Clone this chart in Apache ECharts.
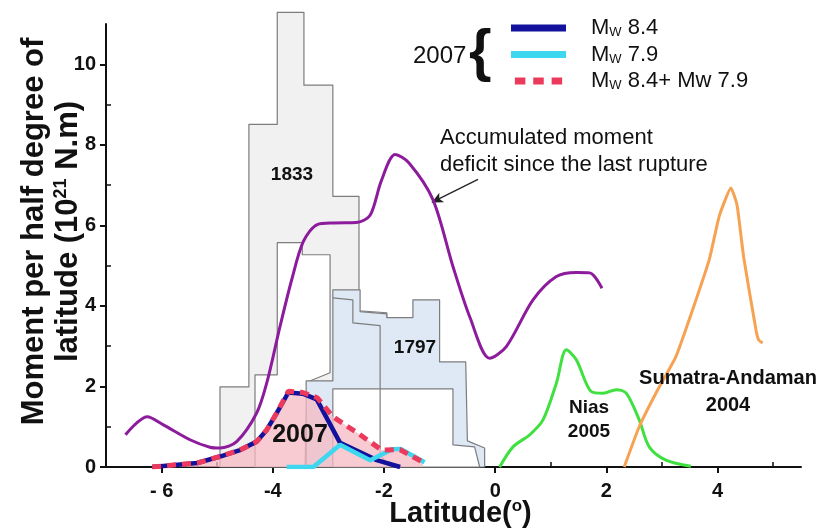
<!DOCTYPE html>
<html><head><meta charset="utf-8">
<script src="https://cdn.jsdelivr.net/npm/echarts@6/dist/echarts.min.js"></script>
<style>html,body{margin:0;padding:0;background:#fff}#c{width:832px;height:532px}</style>
</head><body><div id="c"></div>
<script>
// ---- axis ticks ----
const xTickValues = [-6, -4, -2, 0, 2, 4];
const xTickLabels = ['- 6', '-4', '-2', '0', '2', '4'];
const xMinorValues = [-5, -3, -1, 1, 3, 5];
const yTickValues = [0, 2, 4, 6, 8, 10];
const yMinorValues = [1, 3, 5, 7, 9];

// ---- historical rupture envelopes (latitude, moment) ----
const rupture1833Outer = [[-4.95,0],[-4.95,1.99],[-4.43,1.99],[-4.43,8.51],[-3.92,8.51],[-3.92,11.29],[-3.44,11.29],[-3.44,9.48],[-2.92,9.48],[-2.92,6.72],[-2.45,6.72],[-2.45,3.88],[-1.95,3.83],[-1.95,0.37],[-1.8,0]];
const rupture1833Inner = [[-4.32,0],[-4.32,2.29],[-3.92,2.29],[-3.92,5.57],[-3.47,5.57],[-3.47,5.27],[-2.97,5.27],[-2.97,2.34],[-3.38,2.11],[-3.42,0]];
const rupture1797Outer = [[-3.40,0],[-3.40,2.14],[-2.92,2.14],[-2.92,4.40],[-2.43,4.40],[-2.43,3.86],[-1.95,3.80],[-1.95,3.71],[-1.48,3.71],[-1.48,4.15],[-1.00,4.15],[-1.00,2.61],[-0.53,2.61],[-0.50,0.65],[-0.19,0.47],[-0.19,0]];
const rupture1797Inner = [[-2.92,0],[-2.92,1.94],[-0.76,1.94],[-0.76,0.55],[-0.37,0.50],[-0.28,0]];
const rupture1797Mid = [[-2.92,4.2],[-2.56,4.15],[-2.56,3.58],[-2.07,3.51],[-2.07,0.3],[-1.89,0]];

// ---- curves ----
const deficit = [[-6.65,0.8],[-6.26,1.25],[-5.96,1.04],[-5.48,0.67],[-5.13,0.49],[-4.95,0.47],[-4.65,0.63],[-4.29,1.34],[-4.11,2.08],[-3.87,3.49],[-3.66,4.65],[-3.45,5.6],[-3.2,6.02],[-2.9,6.06],[-2.5,6.07],[-2.25,6.25],[-2.05,7.1],[-1.8,7.76],[-1.55,7.55],[-1.12,6.64],[-0.76,4.98],[-0.45,3.7],[-0.1,2.7],[0.2,2.99],[0.68,4.15],[1.1,4.73],[1.46,4.83],[1.7,4.82],[1.92,4.44]];
const mw84 = [[-6.17,0],[-5.36,0.1],[-4.95,0.26],[-4.59,0.42],[-4.29,0.63],[-4.11,0.92],[-3.93,1.34],[-3.72,1.85],[-3.46,1.82],[-3.21,1.68],[-2.79,0.6],[-2.13,0.17],[-1.71,0]];
const mw79 = [[-3.75,0],[-3.27,0],[-2.79,0.55],[-2.25,0.17],[-1.85,0.44],[-1.7,0.45],[-1.27,0.12]];
const mwSum = [[-6.17,0],[-5.36,0.1],[-4.95,0.26],[-4.59,0.42],[-4.29,0.63],[-4.11,0.92],[-3.93,1.34],[-3.72,1.88],[-3.46,1.85],[-3.2,1.72],[-2.92,1.25],[-2.43,0.8],[-2.04,0.42],[-1.71,0.43],[-1.3,0.12]];
const nias2005 = [[0.08,0],[0.32,0.5],[0.62,0.8],[0.86,1.17],[1.1,2.08],[1.28,2.91],[1.46,2.66],[1.73,1.87],[1.94,1.83],[2.18,1.92],[2.36,1.83],[2.59,1.17],[2.77,0.5],[3.07,0.17],[3.52,0.02]];
const sumatra2004 = [[2.32,0],[2.59,1.0],[2.89,1.83],[3.25,2.74],[3.49,3.66],[3.85,5.15],[4.03,6.23],[4.24,6.93],[4.35,6.5],[4.47,5.2],[4.69,3.41],[4.74,3.15],[4.81,3.08]];
const arrowFrom = [-0.31, 7.14];
const arrowTo = [-1.14, 6.57];

const FONT = 'Arial, "Liberation Sans", sans-serif';

function polygonSeries(pts, fill, z, closed) {
  return {
    type: 'custom', coordinateSystem: 'cartesian2d', silent: true, z: z, clip: false,
    data: pts, encode: {x: 0, y: 1},
    renderItem: function (params, api) {
      if (params.dataIndex !== 0) return null;
      const p = pts.map(function (v) { return api.coord(v); });
      return {
        type: closed ? 'polygon' : 'polyline',
        shape: {points: p},
        style: {fill: closed ? fill : null, stroke: '#7d7d7d', lineWidth: 1.2, lineJoin: 'round'}
      };
    }
  };
}

const chart = echarts.init(document.getElementById('c'), null, {renderer: 'canvas'});
const subRich = {
  f: {fontSize: 22, fontFamily: FONT, color: '#111', padding: [0,0,0,20], lineHeight: 26},
  m: {fontSize: 22, fontFamily: FONT, color: '#111', lineHeight: 26},
  w: {fontSize: 13, fontFamily: FONT, color: '#111', padding: [9,0,0,0], lineHeight: 26}
};
const legendText = {
  'Mw 8.4': '{f|M}{w|W}{m| 8.4}',
  'Mw 7.9': '{f|M}{w|W}{m| 7.9}',
  'Mw 8.4+ Mw 7.9': '{f|M}{w|W}{m| 8.4+ Mw 7.9}'
};

const option = {
  animation: false,
  grid: [
    {left: 106, right: 31, top: 24, bottom: 65, outerBoundsMode: 'none', containLabel: false},
    {left: 106, right: 31, top: 24, bottom: 65, outerBoundsMode: 'none', containLabel: false}
  ],
  xAxis: [
    {type: 'value', gridIndex: 0, min: -7, max: 5.5,
     name: 'Latitude({s|o})', nameLocation: 'middle', nameGap: 31, nameMoveOverlap: false,
     nameTextStyle: {fontSize: 29, fontWeight: 'bold', fontFamily: FONT, color: '#111', padding: [0,0,0,14],
       rich: {s: {fontSize: 17, fontWeight: 'bold', fontFamily: FONT, color: '#111', padding: [0,0,14,0]}}},
     axisLine: {onZero: false, lineStyle: {color: '#111', width: 2}},
     axisTick: {customValues: xTickValues, length: 6, lineStyle: {color: '#111', width: 2}},
     axisLabel: {customValues: xTickValues, margin: 14, fontSize: 20, fontWeight: 'bold', fontFamily: FONT, color: '#111',
       formatter: function (v) { const i = xTickValues.indexOf(v); return i >= 0 ? xTickLabels[i] : ''; }},
     splitLine: {show: false}},
    {type: 'value', gridIndex: 1, min: -7, max: 5.5,
     axisLine: {show: false, onZero: false},
     axisTick: {customValues: xMinorValues, inside: true, length: 5, lineStyle: {color: '#111', width: 1.5}},
     axisLabel: {show: false}, splitLine: {show: false}}
  ],
  yAxis: [
    {type: 'value', gridIndex: 0, min: 0, max: 11,
     name: 'Moment per half degree of\nlatitude (10{s|21} N.m)', nameLocation: 'middle', nameGap: 21, nameRotate: 90, nameMoveOverlap: false,
     nameTextStyle: {fontSize: 31, fontWeight: 'bold', fontFamily: FONT, color: '#111', lineHeight: 34, padding: [0,0,0,28],
       rich: {s: {fontSize: 18, fontWeight: 'bold', fontFamily: FONT, color: '#111', padding: [0,0,14,0]}}},
     axisLine: {show: true, onZero: false, lineStyle: {color: '#111', width: 2}},
     axisTick: {show: true, customValues: yTickValues, length: 6, lineStyle: {color: '#111', width: 2}},
     axisLabel: {customValues: yTickValues, margin: 10, fontSize: 20, fontWeight: 'bold', fontFamily: FONT, color: '#111'},
     splitLine: {show: false}},
    {type: 'value', gridIndex: 1, min: 0, max: 11,
     axisLine: {show: false, onZero: false},
     axisTick: {show: true, customValues: yMinorValues, inside: true, length: 5, lineStyle: {color: '#111', width: 1.5}},
     axisLabel: {show: false}, splitLine: {show: false}}
  ],
  legend: {
    orient: 'vertical', left: 506, top: 12, itemWidth: 55, itemHeight: 7, itemGap: 4.5,
    selectedMode: false,
    data: [
      {name: 'Mw 8.4', icon: 'rect'},
      {name: 'Mw 7.9', icon: 'rect'},
      {name: 'Mw 8.4+ Mw 7.9', icon: 'path://M0,0h12v8h-12zM21,0h12v8h-12zM42,0h12v8h-12z'}
    ],
    formatter: function (n) { return legendText[n]; },
    textStyle: {rich: subRich}
  },
  series: [
    polygonSeries(rupture1833Outer, '#f1f1f1', 1, true),
    polygonSeries(rupture1833Inner, '#ffffff', 2, true),
    polygonSeries(rupture1797Outer, '#dfe8f5', 3, true),
    polygonSeries(rupture1797Inner, '#ffffff', 4, true),
    polygonSeries(rupture1797Mid, null, 5, false),
    {type: 'line', name: '2007 area', data: mwSum, z: 6, symbol: 'none', silent: true,
     lineStyle: {width: 0}, areaStyle: {color: '#f4b9c2', opacity: 0.75}},
    {type: 'line', name: 'deficit', data: deficit, z: 7, symbol: 'none', smooth: 0.3,
     lineStyle: {color: '#8c1c9c', width: 3}, itemStyle: {color: '#8c1c9c'},
     markLine: {silent: true, symbol: ['none', 'arrow'], symbolSize: [8, 11],
       lineStyle: {color: '#222', width: 1.3, type: 'solid'}, label: {show: false},
       data: [[{coord: arrowFrom}, {coord: arrowTo}]]}},
    {type: 'line', name: 'Nias 2005', data: nias2005, z: 7, symbol: 'none', smooth: 0.3,
     lineStyle: {color: '#40e040', width: 3}},
    {type: 'line', name: 'Sumatra 2004', data: sumatra2004, z: 7, symbol: 'none', smooth: 0.15,
     lineStyle: {color: '#f6a252', width: 3}},
    {type: 'line', name: 'Mw 8.4', data: mw84, z: 8, symbol: 'none',
     lineStyle: {color: '#12129c', width: 4.5}, itemStyle: {color: '#12129c'}},
    {type: 'line', name: 'Mw 7.9', data: mw79, z: 9, symbol: 'none',
     lineStyle: {color: '#3dd8f0', width: 4.5}, itemStyle: {color: '#3dd8f0'}},
    {type: 'line', name: 'Mw 8.4+ Mw 7.9', data: mwSum, z: 10, symbol: 'none',
     lineStyle: {color: '#ec3a5c', width: 5, type: [9, 6]}, itemStyle: {color: '#ec3a5c'}}
  ],
  graphic: [
    {type: 'text', left: 413, top: 44, z: 100, style: {text: '2007', font: '24px ' + FONT, fill: '#111'}},
    {type: 'text', left: 469, top: 25, z: 100, style: {text: '{', font: 'bold 58px ' + FONT, fill: '#111'}},
    {type: 'text', x: 292, y: 175, z: 100, style: {text: '1833', font: 'bold 19px ' + FONT, fill: '#111', align: 'center', verticalAlign: 'middle'}},
    {type: 'text', x: 415, y: 348, z: 100, style: {text: '1797', font: 'bold 19px ' + FONT, fill: '#111', align: 'center', verticalAlign: 'middle'}},
    {type: 'text', x: 300, y: 435, z: 100, style: {text: '2007', font: 'bold 25px ' + FONT, fill: '#111', align: 'center', verticalAlign: 'middle'}},
    {type: 'text', x: 589, y: 420, z: 100, style: {text: 'Nias\n2005', font: 'bold 19px ' + FONT, lineHeight: 24, fill: '#111', align: 'center', verticalAlign: 'middle'}},
    {type: 'text', x: 728, y: 392, z: 100, style: {text: 'Sumatra-Andaman\n2004', font: 'bold 20px ' + FONT, lineHeight: 27, fill: '#111', align: 'center', verticalAlign: 'middle'}},
    {type: 'text', x: 440, y: 151, z: 100, style: {text: 'Accumulated moment\ndeficit since the last rupture', font: '22px ' + FONT, lineHeight: 27, fill: '#111', align: 'left', verticalAlign: 'middle'}}
  ]
};
chart.setOption(option);
</script>
</body></html>
